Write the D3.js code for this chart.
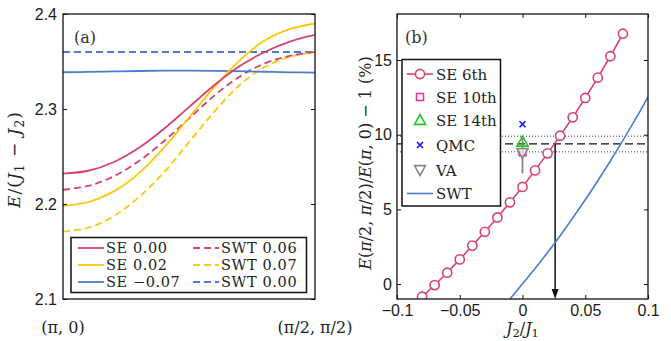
<!DOCTYPE html>
<html>
<head>
<meta charset="utf-8">
<script src="https://cdn.jsdelivr.net/npm/d3@7"></script>
<style>
  body { margin: 0; background: #fff; }
  svg { display: block; }
</style>
</head>
<body>
<div id="chart"></div>
<script>
// ---- panel (a): dispersion along (pi,0) -> (pi/2,pi/2)
const kPath = [0, 0.1, 0.2, 0.3, 0.4, 0.5, 0.6, 0.7, 0.8, 0.9, 1.0];
const pathTicks = [0, 1];
const pathTickLabels = ["(π, 0)", "(π/2, π/2)"];
const energyTicks = [2.1, 2.2, 2.3, 2.4];

const se000 = [2.232, 2.235, 2.244, 2.259, 2.279, 2.302, 2.325, 2.345, 2.360, 2.371, 2.378];
const se002 = [2.198, 2.202, 2.213, 2.232, 2.259, 2.291, 2.323, 2.351, 2.372, 2.384, 2.390];
const seM007 = [2.3387, 2.3390, 2.3395, 2.3400, 2.3403, 2.3404, 2.3402, 2.3398, 2.3392, 2.3386, 2.3383];
const swt006 = [2.215, 2.219, 2.229, 2.245, 2.266, 2.290, 2.314, 2.334, 2.348, 2.356, 2.360];
const swt007 = [2.171, 2.175, 2.187, 2.207, 2.233, 2.265, 2.297, 2.325, 2.344, 2.355, 2.360];
const swt000 = [2.360, 2.360, 2.360, 2.360, 2.360, 2.360, 2.360, 2.360, 2.360, 2.360, 2.360];

const seriesA = [
  { name: "SE 0.00", values: se000, color: "#d6436d", dash: null },
  { name: "SE 0.02", values: se002, color: "#fdc70c", dash: null },
  { name: "SE −0.07", values: seM007, color: "#4a7dd0", dash: null },
  { name: "SWT 0.06", values: swt006, color: "#d6436d", dash: "7,4" },
  { name: "SWT 0.07", values: swt007, color: "#fdc70c", dash: "7,4" },
  { name: "SWT 0.00", values: swt000, color: "#4a7dd0", dash: "7,4" }
];

// ---- panel (b): relative dispersion vs J2/J1
const j2Ticks = [-0.1, -0.05, 0, 0.05, 0.1];
const ratioTicks = [0, 5, 10, 15];
const j2SE6 = [-0.08, -0.07, -0.06, -0.05, -0.04, -0.03, -0.02, -0.01, 0, 0.01, 0.02, 0.03, 0.04, 0.05, 0.06, 0.07, 0.08];
const se6th = [-0.85, -0.07, 0.76, 1.65, 2.57, 3.50, 4.46, 5.47, 6.50, 7.61, 8.75, 9.93, 11.16, 12.46, 13.82, 15.25, 16.76];
const j2SWT = [-0.01, 0, 0.01, 0.02, 0.03, 0.04, 0.05, 0.06, 0.07, 0.08, 0.09, 0.1];
const swtRatio = [-1.0, 0.02, 1.04, 2.12, 3.24, 4.42, 5.64, 6.92, 8.24, 9.62, 11.04, 12.52];
const se10th = 8.82;
const se14th = 9.53;
const qmc = 10.7;
const va = 8.78;
const vaRange = [7.4, 9.9];
const qmcBand = [8.85, 9.9];
const qmcMid = 9.38;
const arrowJ2 = 0.026;

const W = 671, H = 341;
const A = { x0: 63, x1: 315, y0: 14, y1: 299 };
const B = { x0: 397, x1: 648, y0: 14, y1: 299 };
const crimson = "#d6436d", swtBlue = "#4a7dd0";
const tickFont = "'Liberation Sans', Arial, sans-serif";
const mathFont = "'DejaVu Serif', serif";

const svg = d3.select("#chart").append("svg")
  .attr("width", W)
  .attr("height", H);

// write "i:E" (italic), "s:1" (subscript), plain text pieces into a text element
function mathText(sel, parts) {
  let sub = false;
  parts.forEach(p => {
    let t = sel.append("tspan");
    let kind = p.slice(0, 2);
    if (kind == "i:") {
      t.text(p.slice(2)).attr("font-style", "italic");
    } else if (kind == "s:") {
      t.text(p.slice(2)).attr("font-size", "0.72em").attr("dy", "0.3em");
      sub = true;
      return;
    } else {
      t.text(p);
    }
    if (sub) { t.attr("dy", "-0.216em"); sub = false; }
  });
}

// ================= panel (a)
let xA = d3.scaleLinear().domain([0, 1]).range([A.x0, A.x1]);
let yA = d3.scaleLinear().domain([2.1, 2.4]).range([A.y1, A.y0]);

let gA = svg.append("g");

gA.append("clipPath").attr("id", "clipA")
  .append("rect")
  .attr("x", A.x0).attr("y", A.y0)
  .attr("width", A.x1 - A.x0).attr("height", A.y1 - A.y0);

let lineA = d3.line()
  .x((d, i) => xA(kPath[i]))
  .y(d => yA(d))
  .curve(d3.curveCatmullRom.alpha(0.5));

gA.append("g").attr("clip-path", "url(#clipA)")
  .selectAll("path")
  .data(seriesA.slice().reverse())
  .enter()
  .append("path")
  .attr("d", d => lineA(d.values))
  .attr("fill", "none")
  .attr("stroke", d => d.color)
  .attr("stroke-width", 1.8)
  .attr("stroke-dasharray", d => d.dash);

gA.append("g")
  .attr("transform", "translate(" + A.x0 + ",0)")
  .call(d3.axisLeft(yA).tickValues(energyTicks).tickFormat(d3.format(".1f"))
    .tickSizeInner(-4).tickSizeOuter(0).tickPadding(6));
gA.append("g")
  .attr("transform", "translate(" + A.x1 + ",0)")
  .call(d3.axisRight(yA).tickValues(energyTicks).tickFormat("")
    .tickSizeInner(-4).tickSizeOuter(0));

gA.append("rect")
  .attr("x", A.x0).attr("y", A.y0)
  .attr("width", A.x1 - A.x0).attr("height", A.y1 - A.y0)
  .attr("fill", "none").attr("stroke", "#111").attr("stroke-width", 1.3);

// path end labels
pathTicks.forEach((t, i) => {
  gA.append("text")
    .attr("x", xA(t)).attr("y", 333)
    .attr("text-anchor", "middle")
    .attr("font-family", mathFont).attr("font-size", 16)
    .attr("fill", "#222")
    .text(pathTickLabels[i]);
});

gA.append("text")
  .attr("x", 74).attr("y", 43)
  .attr("font-family", mathFont).attr("font-size", 16).attr("fill", "#333")
  .text("(a)");

let ylA = gA.append("text")
  .attr("transform", "translate(20," + ((A.y0 + A.y1) / 2 + 3) + ") rotate(-90)")
  .attr("text-anchor", "middle")
  .attr("font-family", mathFont).attr("font-size", 17).attr("letter-spacing", 1)
  .attr("fill", "#222");
mathText(ylA, ["i:E", "/(", "i:J", "s:1", " − ", "i:J", "s:2", ")"]);

// legend (a)
let legA = gA.append("g");
legA.append("rect")
  .attr("x", 71).attr("y", 237.5).attr("width", 235.5).attr("height", 55)
  .attr("fill", "#fff").attr("stroke", "#111").attr("stroke-width", 1.5);
seriesA.forEach((s, i) => {
  let col = Math.floor(i / 3), row = i % 3;
  let lx = col == 0 ? 78 : 193;
  let ly = 248 + row * 17;
  legA.append("line")
    .attr("x1", lx).attr("x2", lx + 26).attr("y1", ly).attr("y2", ly)
    .attr("stroke", s.color).attr("stroke-width", 1.8)
    .attr("stroke-dasharray", s.dash);
  legA.append("text")
    .attr("x", lx + 28).attr("y", ly + 5)
    .attr("font-family", mathFont).attr("font-size", 14.5).attr("letter-spacing", 0.6)
    .attr("fill", "#222")
    .text(s.name);
});

// ================= panel (b)
let xB = d3.scaleLinear().domain([-0.1, 0.1]).range([B.x0, B.x1]);
let yB = d3.scaleLinear().domain([-1, 18.08]).range([B.y1, B.y0]);

let gB = svg.append("g");
gB.append("clipPath").attr("id", "clipB")
  .append("rect")
  .attr("x", B.x0).attr("y", B.y0)
  .attr("width", B.x1 - B.x0).attr("height", B.y1 - B.y0);

let plotB = gB.append("g").attr("clip-path", "url(#clipB)");

// reference lines
qmcBand.forEach(v => {
  plotB.append("line")
    .attr("x1", xB(-0.1)).attr("x2", xB(0.1))
    .attr("y1", yB(v)).attr("y2", yB(v))
    .attr("stroke", "#222").attr("stroke-width", 0.9)
    .attr("stroke-dasharray", "1,2");
});
plotB.append("line")
  .attr("x1", xB(-0.1)).attr("x2", xB(0.1))
  .attr("y1", yB(qmcMid)).attr("y2", yB(qmcMid))
  .attr("stroke", "#111").attr("stroke-width", 1.3)
  .attr("stroke-dasharray", "8,4");

// arrow
plotB.append("line")
  .attr("x1", xB(arrowJ2)).attr("x2", xB(arrowJ2))
  .attr("y1", yB(qmcMid)).attr("y2", yB(-1) - 8)
  .attr("stroke", "#111").attr("stroke-width", 1.5);
plotB.append("path")
  .attr("d", "M" + (xB(arrowJ2) - 3.5) + "," + (yB(-1) - 10) +
    "L" + (xB(arrowJ2) + 3.5) + "," + (yB(-1) - 10) +
    "L" + xB(arrowJ2) + "," + yB(-1) + "Z")
  .attr("fill", "#111");

// SWT curve
let lineSWT = d3.line()
  .x((d, i) => xB(j2SWT[i]))
  .y(d => yB(d))
  .curve(d3.curveCatmullRom.alpha(0.5));
plotB.append("path")
  .attr("d", lineSWT(swtRatio))
  .attr("fill", "none").attr("stroke", swtBlue).attr("stroke-width", 1.6);

// SE 6th
let lineSE6 = d3.line()
  .x((d, i) => xB(j2SE6[i]))
  .y(d => yB(d));
plotB.append("path")
  .attr("d", lineSE6(se6th))
  .attr("fill", "none").attr("stroke", crimson).attr("stroke-width", 1.6);
plotB.selectAll("circle.se6")
  .data(se6th)
  .enter()
  .append("circle")
  .attr("class", "se6")
  .attr("cx", (d, i) => xB(j2SE6[i]))
  .attr("cy", d => yB(d))
  .attr("r", 4.6)
  .attr("fill", "#fff").attr("stroke", crimson).attr("stroke-width", 1.6);

// single-point estimates at J2 = 0
const sq = 7, tri = 5.5;
plotB.append("line")
  .attr("x1", xB(0)).attr("x2", xB(0))
  .attr("y1", yB(vaRange[0])).attr("y2", yB(vaRange[1]))
  .attr("stroke", "#888").attr("stroke-width", 1.8);
plotB.append("rect")
  .attr("x", xB(0) - sq / 2).attr("y", yB(se10th) - sq / 2)
  .attr("width", sq).attr("height", sq)
  .attr("fill", "none").attr("stroke", "#f0308c").attr("stroke-width", 1.5);
plotB.append("path")
  .attr("d", "M" + (xB(0) - tri) + "," + (yB(va) - tri * 0.8) +
    "L" + (xB(0) + tri) + "," + (yB(va) - tri * 0.8) +
    "L" + xB(0) + "," + (yB(va) + tri) + "Z")
  .attr("fill", "#fff").attr("fill-opacity", 0.6)
  .attr("stroke", "#888").attr("stroke-width", 1.6);
plotB.append("path")
  .attr("d", "M" + (xB(0) - tri) + "," + (yB(se14th) + tri * 0.8) +
    "L" + (xB(0) + tri) + "," + (yB(se14th) + tri * 0.8) +
    "L" + xB(0) + "," + (yB(se14th) - tri) + "Z")
  .attr("fill", "none").attr("stroke", "#22c922").attr("stroke-width", 1.6);
plotB.append("path")
  .attr("d", "M" + (xB(0) - 3) + "," + (yB(qmc) - 3) + "L" + (xB(0) + 3) + "," + (yB(qmc) + 3) +
    "M" + (xB(0) - 3) + "," + (yB(qmc) + 3) + "L" + (xB(0) + 3) + "," + (yB(qmc) - 3))
  .attr("stroke", "#1010f0").attr("stroke-width", 1.6);

// axes (b)
gB.append("g")
  .attr("transform", "translate(" + B.x0 + ",0)")
  .call(d3.axisLeft(yB).tickValues(ratioTicks).tickFormat(d3.format("d"))
    .tickSizeInner(-4).tickSizeOuter(0).tickPadding(5));
gB.append("g")
  .attr("transform", "translate(" + B.x1 + ",0)")
  .call(d3.axisRight(yB).tickValues(ratioTicks).tickFormat("")
    .tickSizeInner(-4).tickSizeOuter(0));
gB.append("g")
  .attr("transform", "translate(0," + B.y1 + ")")
  .call(d3.axisBottom(xB).tickValues(j2Ticks).tickFormat(d => d == 0 ? "0" : d3.format("")(d).replace("-", "−"))
    .tickSizeInner(-4).tickSizeOuter(0).tickPadding(6));
gB.append("g")
  .attr("transform", "translate(0," + B.y0 + ")")
  .call(d3.axisTop(xB).tickValues(j2Ticks).tickFormat("")
    .tickSizeInner(-4).tickSizeOuter(0));

gB.append("rect")
  .attr("x", B.x0).attr("y", B.y0)
  .attr("width", B.x1 - B.x0).attr("height", B.y1 - B.y0)
  .attr("fill", "none").attr("stroke", "#111").attr("stroke-width", 1.3);

gB.append("text")
  .attr("x", 405).attr("y", 43)
  .attr("font-family", mathFont).attr("font-size", 16).attr("fill", "#333")
  .text("(b)");

let xlB = gB.append("text")
  .attr("x", (B.x0 + B.x1) / 2).attr("y", 334)
  .attr("text-anchor", "middle")
  .attr("font-family", mathFont).attr("font-size", 16).attr("fill", "#222");
mathText(xlB, ["i:J", "s:2", "/", "i:J", "s:1"]);

let ylB = gB.append("text")
  .attr("transform", "translate(371,163) rotate(-90)")
  .attr("text-anchor", "middle")
  .attr("font-family", mathFont).attr("font-size", 16).attr("fill", "#222");
mathText(ylB, ["i:E", "(", "i:π", "/2, ", "i:π", "/2)/", "i:E", "(", "i:π", ", 0) − 1 (%)"]);

// legend (b)
let legB = gB.append("g");
legB.append("rect")
  .attr("x", 402).attr("y", 59.5).attr("width", 98.5).attr("height", 146.5)
  .attr("fill", "#fff").attr("stroke", "#111").attr("stroke-width", 1.5);
const legRows = [74, 97, 120, 145, 170, 193.5];
const legNames = ["SE 6th", "SE 10th", "SE 14th", "QMC", "VA", "SWT"];
let mx = 420;
legB.append("line").attr("x1", 407).attr("x2", 433).attr("y1", legRows[0]).attr("y2", legRows[0])
  .attr("stroke", crimson).attr("stroke-width", 1.6);
legB.append("circle").attr("cx", mx).attr("cy", legRows[0]).attr("r", 4.6)
  .attr("fill", "#fff").attr("stroke", crimson).attr("stroke-width", 1.6);
legB.append("rect").attr("x", mx - sq / 2).attr("y", legRows[1] - sq / 2).attr("width", sq).attr("height", sq)
  .attr("fill", "none").attr("stroke", "#f0308c").attr("stroke-width", 1.5);
legB.append("path")
  .attr("d", "M" + (mx - tri) + "," + (legRows[2] + tri * 0.8) + "L" + (mx + tri) + "," + (legRows[2] + tri * 0.8) +
    "L" + mx + "," + (legRows[2] - tri) + "Z")
  .attr("fill", "none").attr("stroke", "#22c922").attr("stroke-width", 1.6);
legB.append("path")
  .attr("d", "M" + (mx - 3) + "," + (legRows[3] - 3) + "L" + (mx + 3) + "," + (legRows[3] + 3) +
    "M" + (mx - 3) + "," + (legRows[3] + 3) + "L" + (mx + 3) + "," + (legRows[3] - 3))
  .attr("stroke", "#1010f0").attr("stroke-width", 1.6);
legB.append("path")
  .attr("d", "M" + (mx - tri) + "," + (legRows[4] - tri * 0.8) + "L" + (mx + tri) + "," + (legRows[4] - tri * 0.8) +
    "L" + mx + "," + (legRows[4] + tri) + "Z")
  .attr("fill", "none").attr("stroke", "#888").attr("stroke-width", 1.6);
legB.append("line").attr("x1", 407).attr("x2", 433).attr("y1", legRows[5]).attr("y2", legRows[5])
  .attr("stroke", swtBlue).attr("stroke-width", 1.6);
legNames.forEach((n, i) => {
  legB.append("text")
    .attr("x", 436).attr("y", legRows[i] + 5.5)
    .attr("font-family", mathFont).attr("font-size", 15).attr("fill", "#222")
    .text(n);
});

// tick label styling
svg.selectAll(".tick text")
  .attr("font-family", tickFont).attr("font-size", 16).attr("fill", "#1a1a1a");
svg.selectAll(".tick line").attr("stroke", "#111");
svg.selectAll(".domain").remove();
</script>
</body>
</html>
